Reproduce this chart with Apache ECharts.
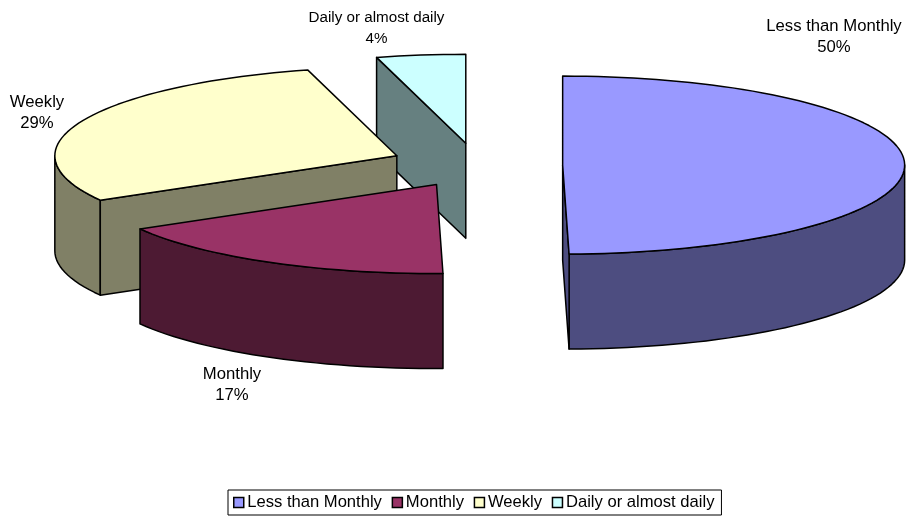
<!DOCTYPE html>
<html>
<head>
<meta charset="utf-8">
<title>Frequency</title>
<style>
html, body { margin: 0; padding: 0; background: #fff; }
#main { width: 908px; height: 516px; }
</style>
<script src="https://cdn.jsdelivr.net/npm/echarts@6/dist/echarts.min.js"></script>
</head>
<body>
<div id="main"></div>
<script>
var categories = ['Less than Monthly', 'Monthly', 'Weekly', 'Daily or almost daily'];
var shares = [49.7, 17, 29.1, 4.2];

var topColors = ['#9999FF', '#993366', '#FFFFCC', '#CCFFFF'];
var sideColors = ['#4D4D80', '#4D1A33', '#808066', '#668080'];
var drawOrder = [1, 3, 2, 0]; // back to front, z of each slice
var labelCenters = [[834, 37], [232, 385], [37, 113], [376.5, 28]];
var labelSizes = [16.7, 16.7, 16.7, 15.2];
var sliceNudge = [[0, 0], [1, 0], [-2, -1], [-0.5, 0]];

// pie projection
var cx = 477.5, cy = 165.3, rx = 342, ry = 89, depth = 95, explode = 0.249;
var rad = Math.PI / 180;

var total = shares.reduce(function (a, b) { return a + b; }, 0);
var starts = [];
var acc = 0;
shares.forEach(function (v) {
    starts.push(acc / total * 360);
    acc += v;
});

function pt(c, a, dy) {
    return [c[0] + rx * Math.sin(a * rad), c[1] - ry * Math.cos(a * rad) + (dy || 0)];
}

function arc(c, a0, a1, dy) {
    var pts = [];
    var n = Math.max(2, Math.ceil(Math.abs(a1 - a0) / 2));
    for (var i = 0; i <= n; i++) {
        pts.push(pt(c, a0 + (a1 - a0) * i / n, dy));
    }
    return pts;
}

function poly(points, color) {
    return {
        type: 'polygon',
        shape: { points: points },
        style: { fill: color, stroke: '#000', lineWidth: 1.5, lineJoin: 'round' }
    };
}

function renderSlice(idx) {
    return function () {
        var a0 = starts[idx];
        var a1 = a0 + shares[idx] / total * 360;
        var mid = (a0 + a1) / 2;
        var c = [
            cx + explode * rx * Math.sin(mid * rad) + sliceNudge[idx][0],
            cy - explode * ry * Math.cos(mid * rad) + sliceNudge[idx][1]
        ];
        var children = [];

        // outer wall, front half only
        var w0 = Math.max(a0, 90), w1 = Math.min(a1, 270);
        if (w1 > w0) {
            children.push(poly(arc(c, w0, w1, 0).concat(arc(c, w1, w0, depth)), sideColors[idx]));
        }
        // cut faces that look towards the viewer
        [[a0, a0 - 90], [a1, a1 + 90]].forEach(function (f) {
            if (-Math.cos(f[1] * rad) > 0.001) {
                children.push(poly([c, pt(c, f[0]), pt(c, f[0], depth), [c[0], c[1] + depth]], sideColors[idx]));
            }
        });
        // top
        children.push(poly([c].concat(arc(c, a0, a1, 0)), topColors[idx]));

        children.push({
            type: 'text',
            style: {
                x: labelCenters[idx][0],
                y: labelCenters[idx][1],
                text: categories[idx] + '\n' + Math.round(shares[idx]) + '%',
                fill: '#000',
                font: labelSizes[idx] + 'px "Liberation Sans", Arial, sans-serif',
                lineHeight: 21,
                align: 'center',
                verticalAlign: 'middle'
            }
        });
        return { type: 'group', children: children };
    };
}

var myChart = echarts.init(document.getElementById('main'), null, { renderer: 'canvas' });

var option = {
    animation: false,
    backgroundColor: '#fff',
    legend: {
        left: 228,
        top: 490,
        padding: [4, 7, 4, 5],
        itemGap: 9.7,
        itemWidth: 10,
        itemHeight: 10,
        backgroundColor: '#fff',
        borderColor: '#000',
        borderWidth: 1,
        borderRadius: 0,
        selectedMode: false,
        textStyle: {
            color: '#000',
            fontSize: 16.6,
            fontFamily: '"Liberation Sans", Arial, sans-serif',
            padding: [0, 0, 0, -1.5]
        },
        data: categories.map(function (name, i) {
            return {
                name: name,
                icon: 'rect',
                itemStyle: { color: topColors[i], borderColor: '#000', borderWidth: 1.5 }
            };
        })
    },
    series: categories.map(function (name, i) {
        return {
            type: 'custom',
            name: name,
            coordinateSystem: 'none',
            z: drawOrder[i] + 2,
            silent: true,
            itemStyle: { color: topColors[i] },
            renderItem: renderSlice(i),
            data: [shares[i]]
        };
    })
};

myChart.setOption(option);
</script>
</body>
</html>
